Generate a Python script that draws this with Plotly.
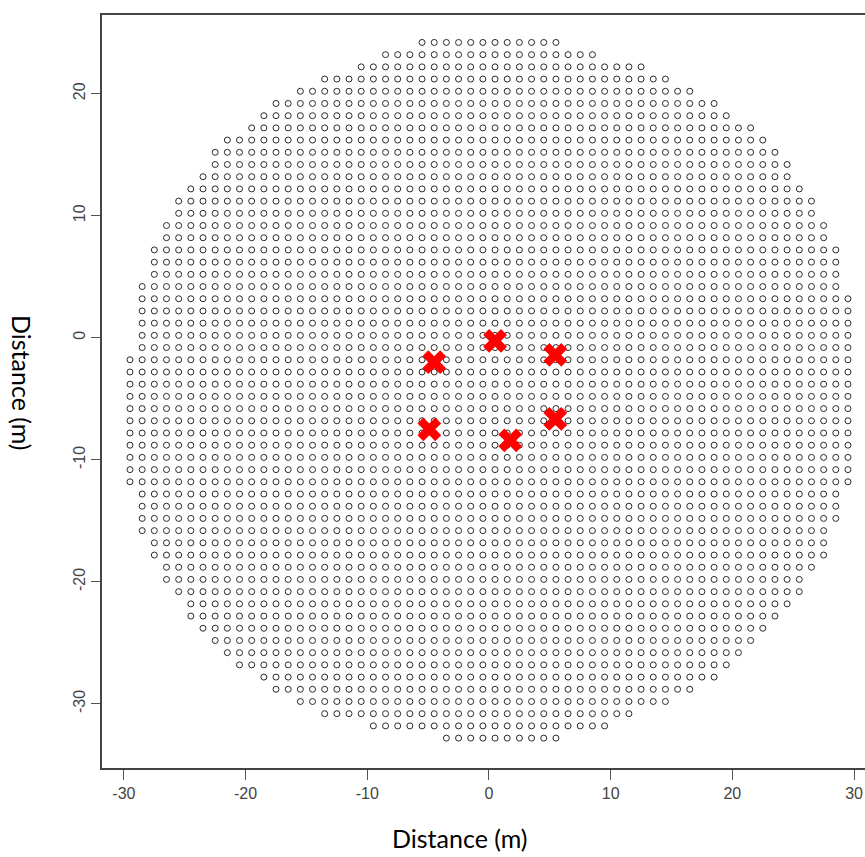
import plotly.graph_objects as go

# Survey grid: one row per northing, with the westmost and eastmost grid point of that row (m).
row_y = [24.2, 23.2, 22.2, 21.2, 20.2, 19.2, 18.2, 17.2, 16.2, 15.2,
         14.2, 13.2, 12.2, 11.2, 10.2, 9.2, 8.2, 7.2, 6.2, 5.2,
         4.2, 3.2, 2.2, 1.2, 0.2, -0.8, -1.8, -2.8, -3.8, -4.8,
         -5.8, -6.8, -7.8, -8.8, -9.8, -10.8, -11.8, -12.8, -13.8, -14.8,
         -15.8, -16.8, -17.8, -18.8, -19.8, -20.8, -21.8, -22.8, -23.8, -24.8,
         -25.8, -26.8, -27.8, -28.8, -29.8, -30.8, -31.8, -32.8]
row_left = [-5.5, -8.5, -10.5, -13.5, -15.5, -17.5, -18.5, -19.5, -21.5, -22.5,
            -22.5, -23.5, -24.5, -25.5, -25.5, -26.5, -26.5, -27.5, -27.5, -27.5,
            -28.5, -28.5, -28.5, -28.5, -28.5, -28.5, -29.5, -29.5, -29.5, -29.5,
            -29.5, -29.5, -29.5, -29.5, -29.5, -29.5, -29.5, -28.5, -28.5, -28.5,
            -28.5, -27.5, -27.5, -26.5, -26.5, -25.5, -24.5, -24.5, -23.5, -22.5,
            -21.5, -20.5, -18.5, -17.5, -15.5, -13.5, -9.5, -3.5]
row_right = [5.5, 8.5, 12.5, 14.5, 16.5, 18.5, 19.5, 21.5, 22.5, 23.5,
             24.5, 24.5, 25.5, 26.5, 26.5, 27.5, 27.5, 28.5, 28.5, 28.5,
             28.5, 29.5, 29.5, 29.5, 29.5, 29.5, 29.5, 29.5, 29.5, 29.5,
             29.5, 29.5, 29.5, 29.5, 29.5, 29.5, 29.5, 28.5, 28.5, 28.5,
             27.5, 27.5, 27.5, 26.5, 25.5, 25.5, 24.5, 23.5, 22.5, 21.5,
             20.5, 19.5, 18.5, 16.5, 14.5, 11.5, 9.5, 5.5]
grid_step = 1.0

# Sampled locations (red crosses)
site_x = [0.5, -4.5, 5.45, -4.9, 5.45, 1.75]
site_y = [-0.25, -2.0, -1.4, -7.5, -6.65, -8.4]

x_ticks = [-30, -20, -10, 0, 10, 20, 30]
y_ticks = [-30, -20, -10, 0, 10, 20]

# Expand each row into its grid points
gx, gy = [], []
for y, x0, x1 in zip(row_y, row_left, row_right):
    n = int(round((x1 - x0) / grid_step)) + 1
    for i in range(n):
        gx.append(x0 + i * grid_step)
        gy.append(y)

fig = go.Figure()
fig.add_trace(go.Scatter(
    x=gx, y=gy, mode="markers",
    marker=dict(symbol="circle-open", size=6, color="#2a2a2a", line=dict(width=1)),
    hoverinfo="skip", showlegend=False,
))
fig.add_trace(go.Scatter(
    x=site_x, y=site_y, mode="markers",
    marker=dict(symbol="x", size=21, color="#ff0000", line=dict(width=0)),
    showlegend=False,
))

tick_font = dict(family="Liberation Sans Narrow, Arial Narrow, Liberation Sans, Arial", size=16, color="#444444")
title_font = dict(family="Lato, Open Sans, sans-serif", size=25, color="#000000")

W, H = 865, 857
ML, MR, MT, MB = 102, 0, 15, 89
pw, ph = W - ML - MR, H - MT - MB


def to_paper(px, py):
    # page pixel position -> paper coordinates of the plot area
    return (px - ML) / pw, (H - MB - py) / ph


xt_x, xt_y = to_paper(460, 838)
yt_x, yt_y = to_paper(22, 383)

fig.update_layout(
    width=W, height=H,
    margin=dict(l=ML, r=MR, t=MT, b=MB),
    paper_bgcolor="white", plot_bgcolor="white",
    xaxis=dict(
        range=[-31.8, 30.9], tickvals=x_ticks, ticktext=[str(v) for v in x_ticks],
        showgrid=False, zeroline=False,
        showline=True, linecolor="#444444", linewidth=1.5, mirror=True,
        ticks="outside", ticklen=10, tickwidth=1, tickcolor="#555555",
        tickfont=tick_font,
    ),
    yaxis=dict(
        range=[-35.25, 26.45], tickvals=y_ticks, ticktext=[str(v) for v in y_ticks],
        showgrid=False, zeroline=False,
        showline=True, linecolor="#444444", linewidth=1.5,
        ticks="outside", ticklen=9, tickwidth=1, tickcolor="#555555",
        tickangle=-90, tickfont=tick_font,
    ),
    annotations=[
        dict(text="Distance (m)", x=xt_x, y=xt_y, xref="paper", yref="paper",
             xanchor="center", yanchor="middle", showarrow=False, font=title_font),
        dict(text="Distance (m)", x=yt_x, y=yt_y, xref="paper", yref="paper",
             xanchor="center", yanchor="middle", showarrow=False, font=title_font,
             textangle=90),
    ],
)

fig.write_html("out.html")
